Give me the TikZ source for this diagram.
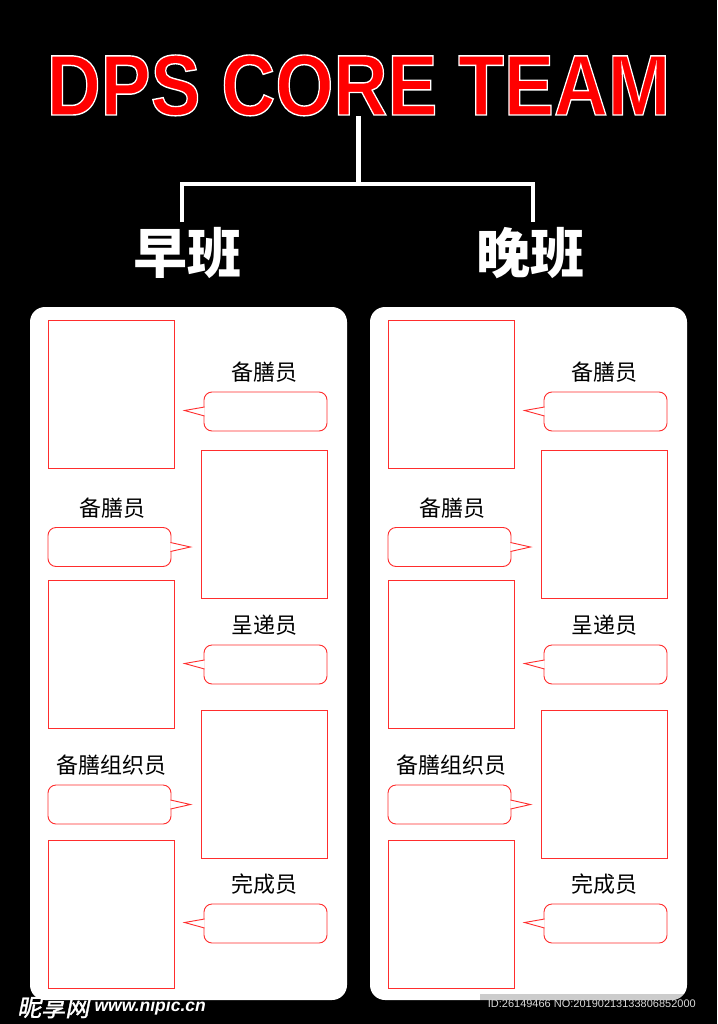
\documentclass[tikz,border=0pt]{standalone}
\usepackage{fontspec}
\setmainfont{Liberation Sans}
\newfontfamily\cjkfont{Noto Sans CJK SC}
\newfontfamily\cjkmark[FakeSlant=.2, FakeBold=1.5]{Noto Sans CJK SC}
\usetikzlibrary{
  calc,       % for shifted anchors
  positioning}
\definecolor{boxred}{RGB}{255,45,45}
% red letters with a thin white rim
\newcommand\rimtext[1]{%
  \special{pdf:literal direct 2 Tr 1.4 w 1 1 1 RG}#1\special{pdf:literal direct 0 Tr}}
\tikzset{
  team title/.style={
    inner sep=0pt, text=red, anchor=base,
    font=\fontsize{86}{86}\selectfont\bfseries},
  shift head/.style={
    inner sep=0pt, text=white, font=\fontsize{54}{54}\selectfont\cjkfont\bfseries},
  white panel/.style={
    shape=rectangle, rounded corners=15pt, fill=white,
    minimum width=317pt, minimum height=693pt},
  photo box/.style={
    shape=rectangle, draw=boxred, line width=.9pt,
    minimum width=126pt, minimum height=148pt},
  speech bubble/.style={
    shape=rectangle, rounded corners=8pt, draw=boxred, fill=white,
    line width=.9pt, minimum width=123pt, minimum height=39pt},
  bubble tip/.style={draw=boxred, fill=white, line width=.9pt, line join=miter},
  role label/.style={
    inner sep=0pt, text=black, font=\fontsize{22}{22}\selectfont\cjkfont},
  fat white line/.style={line width=4.6pt, white},
  mark text/.style={inner sep=0pt, text=white}
}

\begin{document}
\begin{tikzpicture}[
  x=1pt, y=-1pt,
  node distance=9pt]

\fill[black] (0,0) rectangle (717,1024);
\useasboundingbox (0,0) rectangle (717,1024);

\node[team title] (title) at (358.5,115)
  {\scalebox{.87}[1]{\rimtext{DPS CORE TEAM}}};

\node[shift head] (early) at (187,253) {早班};
\node[shift head] (late)  at (530,253) {晚班};

\coordinate (fork)      at (358.5,184);
\coordinate (early-top) at (182,222);
\coordinate (late-top)  at (533,222);

\draw[fat white line] (title.south) -- (fork);
\draw[fat white line] (early-top) |- (fork) -| (late-top);

% the two shift panels are the same, the right one is moved by 340
\foreach \side/\dx in {l/0, r/340} {
  \begin{scope}[xshift=\dx]
  \node[white panel] (\side-panel) at (188.5,653.5) {};

  \node[photo box] (\side-p1) at (111,394) {};
  \node[photo box] (\side-p2) at (264,524) {};
  \node[photo box] (\side-p3) at (111,654) {};
  \node[photo box] (\side-p4) at (264,784) {};
  \node[photo box] (\side-p5) at (111,914) {};

  \node[speech bubble] (\side-b1) at (265.5,411.5) {};
  \node[speech bubble] (\side-b2) at (109.5,547)   {};
  \node[speech bubble] (\side-b3) at (265.5,664.5) {};
  \node[speech bubble] (\side-b4) at (109.5,804.5) {};
  \node[speech bubble] (\side-b5) at (265.5,923.5) {};

  \node[role label, above=of \side-b1, xshift=-1.5pt] (\side-r1) {备膳员};
  \node[role label, above=of \side-b2, xshift=3pt]    (\side-r2) {备膳员};
  \node[role label, above=of \side-b3, xshift=-1.5pt] (\side-r3) {呈递员};
  \node[role label, above=of \side-b4, xshift=2pt]    (\side-r4) {备膳组织员};
  \node[role label, above=of \side-b5, xshift=-1.5pt] (\side-r5) {完成员};
  \end{scope}

  \foreach \n in {1,3,5}
    \draw[bubble tip] ([xshift=1pt,yshift=4.5pt]\side-b\n.west)
      -- ([xshift=-19pt,yshift=1pt]\side-b\n.west)
      -- ([xshift=1pt,yshift=-4.5pt]\side-b\n.west);
  \foreach \n in {2,4}
    \draw[bubble tip] ([xshift=-1pt,yshift=4.5pt]\side-b\n.east)
      -- ([xshift=19pt,yshift=0pt]\side-b\n.east)
      -- ([xshift=-1pt,yshift=-4.5pt]\side-b\n.east);
}

% watermark of the picture site
\fill[black, opacity=.2] (480,994) rectangle (717,1001);
\node[mark text, anchor=west, font=\fontsize{24}{24}\selectfont\cjkmark]
  (mark-logo) at (17,1007) {昵享网};
\node[mark text, right=5pt of mark-logo,
  font=\fontsize{17.5}{18}\selectfont\bfseries\itshape] (mark-site) {www.nipic.cn};
\node[mark text, anchor=east, text=white!85!black,
  font=\fontsize{11}{11}\selectfont] (mark-id) at (696,1004)
  {ID:26149466 NO:20190213133806852000};
\end{tikzpicture}
\end{document}
